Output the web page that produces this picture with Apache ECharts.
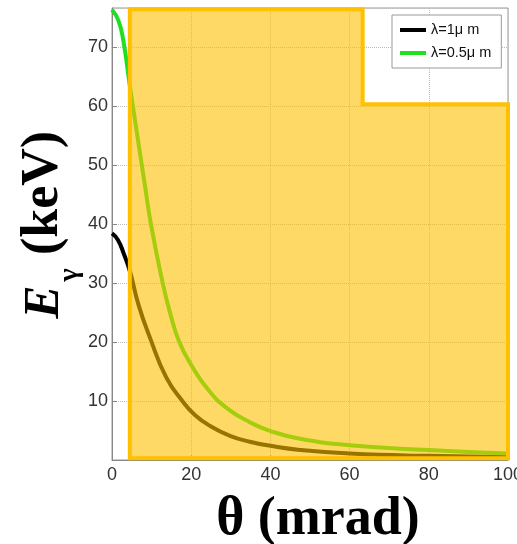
<!DOCTYPE html>
<html>
<head>
<meta charset="utf-8">
<script src="https://cdn.jsdelivr.net/npm/echarts@6/dist/echarts.min.js"></script>
<style>
html,body{margin:0;padding:0;background:#fff;}
#chart{width:517px;height:544px;}
</style>
</head>
<body>
<div id="chart"></div>
<script>
// ---- data ----
var xTicks = [0, 20, 40, 60, 80, 100];
var yTicks = [10, 20, 30, 40, 50, 60, 70];
var seriesNames = ['λ=1μ m', 'λ=0.5μ m'];

var thetaBlack = [0, 1.5, 3, 4.6, 6.7, 9.6, 13.7, 18, 21, 24.7, 29.8, 34.8, 40, 47.5, 60, 80, 100];
var energyBlack = [38.4, 37.3, 34.9, 31.8, 26.3, 20.7, 14.0, 9.8, 7.6, 5.8, 4.1, 3.1, 2.4, 1.7, 1.1, 0.7, 0.5];

var thetaGreen = [0, 1.6, 2.85, 4.55, 5.8, 7, 8.3, 9.8, 12.6, 14.8, 17.0, 20.1, 24.3, 29, 34.8, 40, 47.5, 60, 80, 100];
var energyGreen = [76.3, 74.5, 71.1, 63.2, 57.6, 52.3, 46.6, 40.1, 30.6, 24.6, 20.0, 16.0, 11.9, 8.8, 6.4, 4.9, 3.6, 2.5, 1.7, 1.1];

// highlighted region outline (theta, energy)
var regionTheta = [4.5, 4.5, 63.3, 63.3, 100, 100];
var regionEnergy = [0.3, 76.4, 76.4, 60.3, 60.3, 0.3];

var yMax = 76.6;

function zip(a, b) { return a.map(function (v, i) { return [v, b[i]]; }); }

var chart = echarts.init(document.getElementById('chart'));
var labelFont = "'Liberation Sans Narrow', 'Liberation Sans', Arial, sans-serif";

chart.setOption({
  animation: false,
  backgroundColor: '#fff',
  grid: { left: 112, right: 9, top: 8, bottom: 84, containLabel: false, outerBoundsMode: 'none',
    show: true, borderColor: '#999', borderWidth: 1, backgroundColor: '#fff' },
  xAxis: {
    type: 'value', min: 0, max: 100, interval: 20,
    axisLine: { lineStyle: { color: '#888', width: 1 } },
    axisTick: { inside: true, length: 5, lineStyle: { color: '#888' } },
    axisLabel: { color: '#333', fontSize: 18, fontFamily: labelFont, margin: 6, hideOverlap: false,
      formatter: function (v) { return xTicks.indexOf(v) >= 0 ? String(v) : ''; } },
    splitLine: { show: true, lineStyle: { type: 'dotted', color: '#bbb', width: 1 } }
  },
  yAxis: {
    type: 'value', min: 0, max: yMax, interval: 10,
    axisLine: { show: true, lineStyle: { color: '#888', width: 1 } },
    axisTick: { inside: true, length: 5, lineStyle: { color: '#888' } },
    axisLabel: { color: '#333', fontSize: 18, fontFamily: labelFont, margin: 4, showMaxLabel: false,
      formatter: function (v) { return yTicks.indexOf(v) >= 0 ? String(v) : ''; } },
    splitLine: { show: true, lineStyle: { type: 'dotted', color: '#bbb', width: 1 } }
  },
  legend: {
    left: 392, top: 15, orient: 'vertical',
    padding: [7, 10, 7, 8], itemGap: 7,
    itemWidth: 26, itemHeight: 4,
    backgroundColor: '#fff', borderColor: '#999', borderWidth: 1,
    textStyle: { fontSize: 14.5, fontFamily: "'Liberation Sans', Arial, sans-serif", color: '#111', lineHeight: 16 },
    data: [{ name: seriesNames[0], icon: 'rect' }, { name: seriesNames[1], icon: 'rect' }]
  },
  graphic: [
    { type: 'text', x: 318, y: 520, z: 10,
      style: { text: 'θ (mrad)', font: "bold 54px 'Liberation Serif', 'Times New Roman', serif", fill: '#000', align: 'center', verticalAlign: 'middle' } },
    { type: 'text', x: 45, y: 302, rotation: Math.PI / 2, z: 10,
      style: { text: 'E', font: "italic bold 50px 'Liberation Serif', 'Times New Roman', serif", fill: '#000', align: 'center', verticalAlign: 'middle' } },
    { type: 'text', x: 70, y: 275, rotation: Math.PI / 2, z: 10,
      style: { text: 'γ', font: "bold 28px 'Liberation Serif', 'Times New Roman', serif", fill: '#000', align: 'center', verticalAlign: 'middle' } },
    { type: 'text', x: 44, y: 193, rotation: Math.PI / 2, z: 10,
      style: { text: '(keV)', font: "bold 52px 'Liberation Serif', 'Times New Roman', serif", fill: '#000', align: 'center', verticalAlign: 'middle' } }
  ],
  series: [
    { name: seriesNames[0], type: 'line', data: zip(thetaBlack, energyBlack), showSymbol: false,
      smooth: 0.5,
      color: '#000', lineStyle: { color: '#000', width: 4 }, z: 2 },
    { name: seriesNames[1], type: 'line', data: zip(thetaGreen, energyGreen), showSymbol: false,
      smooth: 0.5,
      color: '#1ee01e', lineStyle: { color: '#1ee01e', width: 4 }, z: 2 },
    { type: 'custom', z: 3, clip: false, silent: true,
      data: [[regionTheta[0], regionEnergy[0]]],
      renderItem: function (params, api) {
        var pts = regionTheta.map(function (t, i) { return api.coord([t, regionEnergy[i]]); });
        return { type: 'polygon', shape: { points: pts },
          style: { fill: 'rgba(255,192,0,0.6)', stroke: '#FFC000', lineWidth: 4, lineJoin: 'miter' } };
      } }
  ]
});
</script>
</body>
</html>
